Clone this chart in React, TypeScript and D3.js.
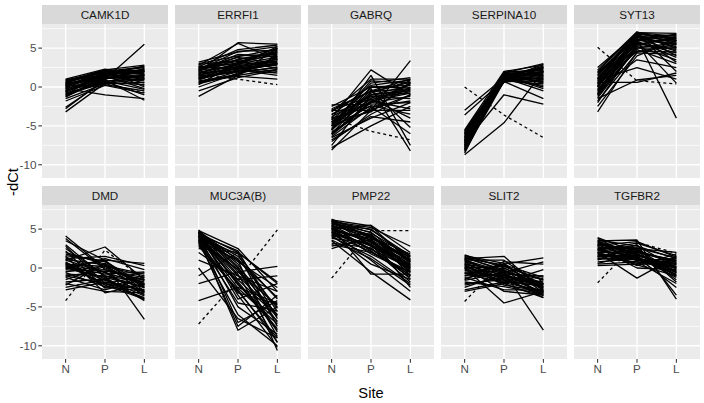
import React, { useRef, useEffect } from 'react';
import * as d3 from 'd3';

type Triple = [number, number, number];

const sites = ['N', 'P', 'L'];
const genes = ['CAMK1D', 'ERRFI1', 'GABRQ', 'SERPINA10', 'SYT13', 'DMD', 'MUC3A(B)', 'PMP22', 'SLIT2', 'TGFBR2'];
const yTicks = [-10, -5, 0, 5];
const yMinor = [-7.5, -2.5, 2.5, 7.5];

const camk1d: Triple[] = [
  [-0.5, 1.2, 1.5], [0.2, 1.8, 2.0], [-1, 1, 2.4], [0.8, 2.2, 2.8], [-0.3, 1.5, 1.0], [0.5, 2.0, 1.8],
  [-2.8, 1.0, 5.5], [-3.2, 0.5, 1.5], [-2.6, 0.8, 1.0], [0, 1.6, 2.2], [-0.8, 0.6, 0.3], [0.3, 1.4, -0.2],
  [1.0, 2.3, 1.6], [-0.2, -1.0, -1.5], [-1.2, 0.9, -1.7], [0.6, 1.9, 2.5], [-0.6, 1.3, 0.8], [0.1, 2.1, 1.2],
  [-1.5, 0.4, 0.6], [0.4, 1.0, 2.1], [-0.9, 1.7, 1.9], [0.7, 2.2, 0.0], [-0.4, 0.7, -1.0], [0.9, 1.5, 2.0],
  [-1.1, 1.1, 1.3], [0.2, 0.3, -0.5], [-0.7, 2.0, 2.6], [0.5, 1.2, 1.4], [-0.1, 1.8, 0.5], [-1.8, 0.2, -0.8],
  [0.3, 1.7, 1.1], [-0.2, 1.0, 2.3], [0.6, 2.1, 1.7], [-0.5, 0.8, -0.3], [0.9, 1.9, 2.2], [-1.3, 1.4, 1.6],
  [0.0, 2.2, 2.0], [-0.9, 0.5, 1.0], [0.4, 1.3, 0.2], [-0.6, 1.6, 2.7],
];
const errfi1: Triple[] = [
  [1.5, 3.0, 3.8], [2.0, 5.7, 5.5], [0.5, 2.0, 3.0], [3.2, 4.5, 5.2], [-1.2, 1.5, 4.0], [2.5, 3.5, 4.5],
  [1.0, 2.5, 2.0], [2.8, 5.6, 3.5], [1.8, 3.0, 4.8], [0.0, 1.8, 2.6], [2.2, 2.6, 3.2], [1.2, 2.2, 1.5],
  [3.0, 4.0, 4.2], [0.8, 1.6, 5.0], [2.4, 3.8, 3.0], [1.6, 2.4, 2.8], [-0.5, 1.2, 2.2], [2.6, 4.8, 5.4],
  [1.4, 2.0, 3.6], [0.3, 3.2, 4.6], [2.9, 3.4, 2.4], [1.9, 2.8, 5.2], [0.6, 1.4, 1.0], [2.1, 4.2, 3.9],
  [1.1, 2.9, 3.3], [2.7, 2.2, 1.8], [1.7, 3.6, 4.4], [0.9, 2.5, 3.0], [2.3, 3.1, 5.0], [1.3, 1.9, 2.5],
  [1.5, 2.6, 3.4], [2.4, 3.3, 4.1], [1.0, 2.1, 2.9], [2.0, 3.9, 4.9], [0.4, 1.7, 3.7], [1.8, 2.3, 3.1],
  [2.6, 3.0, 4.4], [1.2, 2.7, 3.6], [0.7, 1.5, 2.3], [2.2, 4.6, 4.7],
];
const gabrq: Triple[] = [
  [-5, -1, -0.5], [-4, 2.2, -1], [-6, -2, 0.5], [-3, -0.5, 1], [-8.1, -3, 3.4], [-2.3, -2.2, -2],
  [-7, -3.5, -1], [-4.5, -0.8, 0.8], [-5.5, 1.5, -7.5], [-3.5, -1.5, -4], [-6.5, -4, -2], [-2.5, 0, 0.2],
  [-4, -2.5, -6], [-7.5, -1, -0.3], [-5, 0.5, 1.2], [-3, -3, -3], [-6, -1.8, -0.8], [-4.2, -0.2, -8.2],
  [-5.8, -2.8, 0], [-3.8, -1.2, -1.5], [-6.8, -3.8, -4.5], [-4.8, 0.8, 0.5], [-2.8, -0.6, -0.2], [-5.2, -2.4, -3.5],
  [-7.8, -5, -2.5], [-3.2, 1, 1], [-4.6, -1.6, -0.6], [-6.2, -2, -1.2], [-5.4, -0.4, -5.2], [-4.4, -3.2, 0.6],
  [-4.5, -1, 0.2], [-5.5, -1.4, -0.4], [-3.6, 0.2, 0.9], [-6.4, -2.6, -1.8], [-4.2, -2, 0.4], [-5, -3, -1],
  [-3, -1.2, -0.8], [-6, -0.6, 0.6], [-4.8, -1.8, -2.8], [-5.6, 0, -0.1],
];
const serpina10: Triple[] = [
  [-7, 1.5, 2], [-6.5, 1.8, 3], [-8, 1.2, 1], [-7.5, 0.8, 2.5], [-6, 1.6, 0.5], [-5.5, 2, 2.8],
  [-8.7, -4.6, 2], [-7.2, -1, -2.2], [-3, 1.2, -0.5], [-3.6, 0.9, 0.2], [-6.8, 1, 1.5], [-7.8, 1.4, 0],
  [-6.2, 1.9, 2.2], [-5.8, 0.6, 1.2], [-8.3, 0.7, -1.5], [-7.1, 1.7, 1.8], [-6.6, 1.3, 2.6], [-5.9, 1.1, 0.8],
  [-7.4, 1.5, 1.4], [-6.9, 0.9, 2.4], [-8.1, 1.8, 1.6], [-6.3, 1.4, -0.2], [-7.6, 1.0, 2.9], [-5.7, 1.6, 1.0],
  [-7.9, 0.8, 0.4], [-6.1, 1.2, 1.9], [-7.3, 1.9, 2.1], [-6.4, 0.7, 1.3], [-8.5, 1.5, 0.6], [-7.0, 1.1, 2.7],
  [-6.7, 1.3, 1.7], [-7.7, 1.6, 2.3], [-6.0, 0.9, 1.1], [-8.0, 1.0, 1.9], [-7.2, 1.7, 0.9], [-5.6, 1.4, 2.5],
  [-6.5, 1.8, 1.4], [-7.5, 1.2, 2.0], [-8.2, 1.5, 2.6], [-6.9, 0.8, 0.7],
];
const syt13: Triple[] = [
  [0, 6.5, 6], [1, 7, 6.5], [-1, 5, 5], [2.5, 6.8, 4], [-0.5, 4.8, 3], [0.5, 6, 6.8],
  [-3.2, 4.5, 5.5], [1.5, 7, 2], [-2, 5.5, 6.2], [0.8, 6.2, -4], [-1.5, 0.9, 1.5], [0.6, 0.6, 1.8],
  [1.2, 5.8, 0.5], [-0.8, 6.6, 5.8], [0.2, 4.6, 4.5], [2, 7, 6.9], [-1.2, 5.2, 3.5], [1.8, 6.4, 5.2],
  [-0.2, 3.5, 2.5], [0.4, 5.6, 4.8], [-2.5, 4, 6], [1, 6.9, 6.2], [-0.6, 5.9, 3.8], [2.2, 7.1, 5.5],
  [0.1, 6.3, 6.6], [-1.8, 4.4, 4.2], [1.4, 6.7, 5], [-0.3, 5.4, 6.4], [0.9, 2.5, 1], [-1, 6, 5.6],
  [0.3, 6.1, 5.9], [1.1, 6.8, 6.3], [-0.4, 5.3, 5.1], [1.6, 6.5, 6.7], [0, 5.7, 4.4], [-0.9, 6.4, 5.4],
  [0.7, 7, 6], [1.9, 6.2, 4.6], [-1.4, 5, 5.7], [0.5, 6.6, 3.2],
];
const dmd: Triple[] = [
  [4.1, 0, -2], [3.5, 1, -3], [2.5, -1, -2.5], [1, 2.7, -1.5], [0.5, -0.5, -3.5], [-1, -2, -1],
  [0, 1, 0.6], [-2.5, -1.5, -4], [1.5, -3.2, -2], [2, 0.5, -6.6], [-2.8, -1.8, -2.8], [-0.5, 0.3, -0.8],
  [3, -1.2, -4.2], [0.8, -2.5, -1.2], [-1.5, 0.2, -2.2], [1.2, 1.5, 0.3], [-2, -3, -3.2], [0.2, -0.8, -0.5],
  [2.8, -2, -3.8], [-0.8, -1, -1.8], [1.8, 0.8, -2.6], [-1.2, -2.8, -1.4], [0.4, -1.6, -3], [3.8, -0.2, -1.6],
  [-2.2, 0.6, -2.4], [0.6, -2.2, -4], [-0.2, 1.2, -0.2], [1.4, -0.6, -3.4], [-1.8, -1.4, -0.6], [2.2, -2.6, -2.2],
  [0.5, 0.2, -1], [1, -0.6, -2], [0, -1.2, -2.5], [-0.4, -0.2, -1.6], [1.1, 0.4, -3.2], [0.3, -2, -2.8],
  [-1, -0.4, -1.2], [0.7, -1.4, -3.6], [1.6, 0.9, -2.2], [-0.6, -2.4, -3],
];
const muc3ab: Triple[] = [
  [4.5, 0, -5], [4.8, 2.5, -3], [4, -2, -8], [3.5, 1, -10.6], [4.2, -1, -6], [3, -3, -9],
  [4.6, -4, -2], [3.8, -8, -5], [-1, 2, -2], [-2, -0.5, 0.2], [-4.2, -2.5, -4.5], [4.4, 1.5, -4],
  [3.2, -6, -10], [4.7, 0.5, -7], [2, -1.5, -1], [4.1, -5, -8.5], [3.6, -7.5, -3.5], [4.3, 2.2, -6.5],
  [2.8, -2.8, -9.5], [4.9, -0.5, -4.8], [1, -1, -3], [3.9, 1.8, -7.5], [4.5, -3.5, -10.2], [3.4, -4.5, -5.5],
  [4.0, 0.8, -2.5], [0, -6.5, -9], [4.6, -2.2, -6.8], [3.7, -0.2, -8.2], [4.2, -7, -4.2], [2.5, 2, -1.8],
  [4.4, -1.5, -6.2], [4.7, 0.2, -8.8], [3.9, -2.6, -7.2], [4.2, 1.2, -5.2], [4.6, -0.8, -9.6], [3.5, -3.2, -4.6],
  [4.8, 1, -3.8], [4.1, -1.8, -7.8], [3.3, -0.2, -6], [4.5, 2, -5.6],
];
const pmp22: Triple[] = [
  [6, 4, 1], [5.5, 3, 0], [5, 5.5, 2], [4.5, 2.5, -1], [6.2, 4.5, 1.5], [4, 1.5, -2],
  [3.5, -0.5, -4.1], [5.8, 3.5, 0.5], [2.5, 4, 1.8], [3, 2, -0.5], [5.2, -0.8, -0.8], [4.8, 3.8, -2.5],
  [6.1, 2.8, 0.2], [5.6, 5, 1.2], [4.2, 0.5, -1.5], [3.8, 3.2, 0.8], [5.9, 4.2, -0.2], [4.6, 1, -3],
  [2.8, 3.6, 1], [5.4, 2.2, -1.2], [6.0, 5.2, 2.8], [4.4, 3, 0.4], [5.1, 1.8, -0.6], [3.2, 2.6, -1.8],
  [5.7, 4.6, 0.6], [4.9, 3.4, -0.4], [6.3, 3.8, 1.4], [3.6, 1.2, -2.2], [5.3, 2.4, 0], [4.1, 4.4, -1],
  [5.5, 3.9, 0.9], [4.7, 2.8, -0.2], [6, 4.9, 1.6], [5.2, 3.3, 0.3], [4.3, 2.1, -0.9], [5.8, 4.1, 1.1],
  [5, 3.6, -0.5], [6.2, 5.4, 0.8], [4.6, 2.9, -1.4], [5.4, 4.3, 0.1],
];
const slit2: Triple[] = [
  [1.7, 0, -2], [1.2, 1.5, -3], [0.5, -1, -2.5], [-1, 0.5, 1.3], [-2, -1.5, -3.5], [0, -4.5, -3],
  [-3, -2, -1], [1, -0.5, -8], [-1.5, 0.8, 0.5], [0.8, -2, -3.8], [-0.5, -1, -2.2], [1.5, 0.2, -1.5],
  [-2.5, -0.8, -3.2], [0.2, -1.8, -0.2], [-1.2, -2.8, -2.8], [1.3, -0.2, -3.6], [-0.8, 0.4, -1.2], [0.6, -1.4, -2],
  [-1.8, -2.4, -3.4], [1.0, 1.0, -2.6], [-0.2, -0.6, 0.8], [0.4, -2.2, -3], [-2.2, -1.2, -1.8], [1.6, 0.6, -3.2],
  [-0.6, -1.6, -2.4], [0.9, -0.8, -1], [-1.4, 0, -2.8], [0.1, -3, -3.5], [-2.8, -1.8, -2.2], [1.1, -1.2, -3.8],
  [0.5, -0.3, -2.4], [-0.3, -1.2, -3.1], [1.2, 0.4, -2.7], [-1, -0.9, -2], [0.8, -0.6, -3.4], [0, 0.2, -1.6],
  [-0.7, -1.9, -2.9], [1.4, -0.4, -2.1], [-1.6, -0.6, -1.4], [0.3, -1.5, -3.3],
];
const tgfbr2: Triple[] = [
  [3.9, 2, 1], [3.5, 3.6, -4], [3, 1, 0], [2.5, 2.5, 2], [2, -1.3, 1.5], [1.5, 1.5, -1],
  [1, 3, -3.5], [0.3, 0.5, 0.5], [3.2, 1.8, -0.5], [2.8, 0.3, 1.8], [2.2, 2.2, -1.5], [1.8, 1, 0.2],
  [3.6, 2.8, 1.2], [0.8, 1.2, -0.8], [2.6, 0, -0.2], [1.2, 2, 0.8], [3.4, 1.4, -1.2], [2.4, 3.2, 1.6],
  [0.5, 0.8, -2], [1.6, 1.6, 0.4], [3.0, 2.4, -0.6], [2.0, 0.6, 1], [1.4, 2.6, -1.8], [3.8, 1.2, 0.6],
  [0.6, 1.8, -0.4], [2.9, 3.4, 1.4], [1.9, 0.4, -1], [2.3, 2.9, 0], [1.1, 1.4, -2.5], [3.3, 0.9, 1.2],
  [2.2, 1.6, 0.2], [2.7, 2.1, 0.9], [1.7, 1.1, -0.3], [3.1, 2.3, 0.5], [2.0, 1.9, -0.9], [1.3, 0.8, 0.1],
  [2.9, 2.6, 1.3], [2.4, 1.3, -0.6], [1.5, 2.2, 0.7], [3.5, 1.7, -0.1],
];
// the one patient drawn dashed, one triple per gene (same order as genes)
const dashedPatient: Triple[] = [
  [0.0, 0.4, -0.7], [1.6, 1.0, 0.3], [-4.0, -5.7, -6.8], [0.0, -3.6, -6.5], [5.1, 0.8, 0.4],
  [-4.2, 2.3, -1.5], [-7.2, -1.5, 4.9], [-1.3, 4.8, 4.8], [-4.3, 0.9, -1.8], [-1.9, 3.3, 1.9],
];
const geneLines: Triple[][] = [camk1d, errfi1, gabrq, serpina10, syt13, dmd, muc3ab, pmp22, slit2, tgfbr2];

const W = 704;
const H = 403;
const FONT = '"Liberation Sans", Arial, Helvetica, sans-serif';

const App: React.FC = () => {
  const ref = useRef<SVGSVGElement | null>(null);
  useEffect(() => {
    if (!ref.current) return;
    const svg = d3.select(ref.current);
    svg.selectAll('*').remove();

    const panelW = 126;
    const panelH = 154;
    const stripH = 19;
    const colX = [42, 175, 308, 441, 574];
    const rowTop = [24, 205];

    genes.forEach((gene, gi) => {
      const col = gi % 5;
      const row = Math.floor(gi / 5);
      const x0 = colX[col];
      const y0 = rowTop[row];
      const x = d3.scalePoint<string>().domain(sites).range([x0, x0 + panelW]).padding(0.6);
      const y = d3.scaleLinear().domain([-11.7, 8.1]).range([y0 + panelH, y0]);

      // strip
      svg.append('rect').attr('x', x0).attr('y', y0 - stripH).attr('width', panelW).attr('height', stripH).attr('fill', '#D9D9D9');
      svg.append('text').attr('x', x0 + panelW / 2).attr('y', y0 - stripH / 2).attr('dy', '0.35em')
        .attr('text-anchor', 'middle').attr('font-family', FONT).attr('font-size', 11.7).attr('fill', '#1A1A1A').text(gene);

      // panel background + grid
      svg.append('rect').attr('x', x0).attr('y', y0).attr('width', panelW).attr('height', panelH).attr('fill', '#EBEBEB');
      const g = svg.append('g');
      yMinor.forEach((v) => {
        g.append('line').attr('x1', x0).attr('x2', x0 + panelW).attr('y1', y(v)).attr('y2', y(v)).attr('stroke', '#fff').attr('stroke-width', 0.71);
      });
      yTicks.forEach((v) => {
        g.append('line').attr('x1', x0).attr('x2', x0 + panelW).attr('y1', y(v)).attr('y2', y(v)).attr('stroke', '#fff').attr('stroke-width', 1.42);
      });
      sites.forEach((s) => {
        g.append('line').attr('x1', x(s)!).attr('x2', x(s)!).attr('y1', y0).attr('y2', y0 + panelH).attr('stroke', '#fff').attr('stroke-width', 1.42);
      });

      // patient lines
      const toPts = (t: Triple) => sites.map((s, i) => [x(s)!, y(t[i])] as [number, number]);
      geneLines[gi].forEach((t) => {
        svg.append('path').attr('d', d3.line()(toPts(t)) as string).attr('fill', 'none')
          .attr('stroke', '#000').attr('stroke-width', 1.3).attr('stroke-linejoin', 'round');
      });
      svg.append('path').attr('d', d3.line()(toPts(dashedPatient[gi])) as string).attr('fill', 'none')
        .attr('stroke', '#000').attr('stroke-width', 1.3).attr('stroke-dasharray', '3,3');

      // y axis on first column
      if (col === 0) {
        yTicks.forEach((v) => {
          svg.append('line').attr('x1', x0 - 3.7).attr('x2', x0).attr('y1', y(v)).attr('y2', y(v)).attr('stroke', '#333').attr('stroke-width', 1.07);
          svg.append('text').attr('x', x0 - 5.5).attr('y', y(v)).attr('dy', '0.35em').attr('text-anchor', 'end')
            .attr('font-family', FONT).attr('font-size', 11.7).attr('fill', '#4D4D4D').text(v);
        });
      }
      // x axis on bottom row
      if (row === 1) {
        sites.forEach((s) => {
          svg.append('line').attr('x1', x(s)!).attr('x2', x(s)!).attr('y1', y0 + panelH).attr('y2', y0 + panelH + 3.7).attr('stroke', '#333').attr('stroke-width', 1.07);
          svg.append('text').attr('x', x(s)!).attr('y', y0 + panelH + 5.5).attr('dy', '0.75em').attr('text-anchor', 'middle')
            .attr('font-family', FONT).attr('font-size', 11.7).attr('fill', '#4D4D4D').text(s);
        });
      }
    });

    // axis titles
    svg.append('text').attr('x', (colX[0] + colX[4] + panelW) / 2).attr('y', 393).attr('dy', '0.35em').attr('text-anchor', 'middle')
      .attr('font-family', FONT).attr('font-size', 14.7).attr('fill', '#000').text('Site');
    svg.append('text').attr('transform', `translate(13,${(rowTop[0] - stripH + rowTop[1] + panelH) / 2}) rotate(-90)`)
      .attr('dy', '0.35em').attr('text-anchor', 'middle')
      .attr('font-family', FONT).attr('font-size', 14.7).attr('fill', '#000').text('-dCt');
  }, []);
  return (
    <svg ref={ref} width={W} height={H} style={{ position: 'absolute', left: 0, top: 0, background: '#fff' }} />
  );
};

export default App;
